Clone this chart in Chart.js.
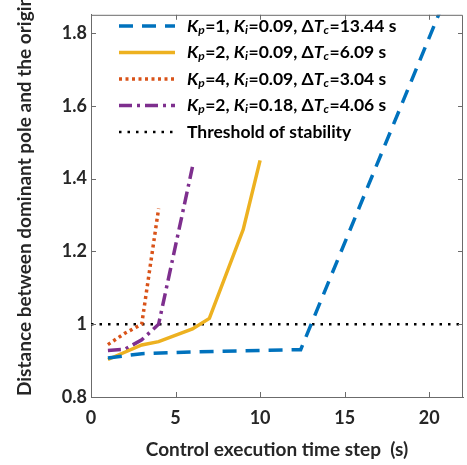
<!DOCTYPE html>
<html>
<head>
<meta charset="utf-8">
<script src="https://cdn.jsdelivr.net/npm/chart.js@4"></script>
<style>
  html, body { margin: 0; padding: 0; background: #fff; }
  #wrap { width: 467px; height: 465px; }
</style>
</head>
<body>
<div id="wrap"><canvas id="myChart"></canvas></div>
<script>
// series (x = control execution time step in s, y = distance to origin)
const blueX = [1, 3, 6, 12.4, 21];
const blueY = [0.907, 0.919, 0.924, 0.930, 1.90];
const yellowX = [1, 3, 4, 6, 7, 9, 10];
const yellowY = [0.903, 0.943, 0.952, 0.987, 1.016, 1.26, 1.45];
const orangeX = [1, 2, 3, 4];
const orangeY = [0.944, 0.975, 1.0, 1.318];
const purpleX = [1, 2, 3, 4, 6];
const purpleY = [0.928, 0.931, 0.957, 1.0, 1.432];
const thresholdX = [0, 22];
const thresholdY = [1, 1];

const seriesLabels = [
    "K_p=1, K_i=0.09, ΔT_c=13.44 s",
    "K_p=2, K_i=0.09, ΔT_c=6.09 s",
    "K_p=4, K_i=0.09, ΔT_c=3.04 s",
    "K_p=2, K_i=0.18, ΔT_c=4.06 s",
    "Threshold of stability"
];

const xTicks = [0, 5, 10, 15, 20];
const yTicks = [0.8, 1, 1.2, 1.4, 1.6, 1.8];
const yTickLabels = ["0.8", "1", "1.2", "1.4", "1.6", "1.8"];
const yTitle = "Distance between dominant pole and the origin";

const FONT = "Lato";
const TEXT = "#262626";
const AXIS = "#6b6b6b";

function pts(xs, ys) {
    return xs.map((x, i) => ({ x: x, y: ys[i] }));
}

// box round the plot, MATLAB style inward ticks, y title
const boxPlugin = {
    id: 'box',
    afterDraw(chart) {
        const ctx = chart.ctx;
        const a = chart.chartArea;
        const xs = chart.scales.x, ys = chart.scales.y;
        ctx.save();
        ctx.strokeStyle = AXIS;
        ctx.lineWidth = 1;
        ctx.beginPath();
        ctx.moveTo(a.left, a.top + 0.5);
        ctx.lineTo(a.right - 0.5, a.top + 0.5);
        ctx.lineTo(a.right - 0.5, a.bottom);
        xTicks.forEach(v => {
            const p = Math.round(xs.getPixelForValue(v)) + 0.5;
            ctx.moveTo(p, a.bottom); ctx.lineTo(p, a.bottom - 5);
            ctx.moveTo(p, a.top); ctx.lineTo(p, a.top + 5);
        });
        yTicks.forEach(v => {
            const p = Math.round(ys.getPixelForValue(v)) + 0.5;
            ctx.moveTo(a.left, p); ctx.lineTo(a.left + 5, p);
            ctx.moveTo(a.right, p); ctx.lineTo(a.right - 5, p);
        });
        ctx.stroke();

        // y title runs from the bottom of the axis upward and may leave the canvas
        ctx.translate(25, a.bottom - 1);
        ctx.rotate(-Math.PI / 2);
        ctx.fillStyle = TEXT;
        ctx.font = 'bold 19px ' + FONT;
        ctx.textAlign = 'left';
        ctx.textBaseline = 'middle';
        ctx.fillText(yTitle, 0, 0);
        ctx.restore();
    }
};

// legend with italic symbols and subscripts
function drawRich(ctx, str, x, y, size) {
    const re = /([A-ZΔ]?)([A-Z])_(\w)/g;
    const seg = (t, it, sub) => {
        if (!t) return;
        ctx.font = (it ? 'italic ' : '') + 'bold ' + (sub ? Math.round(size * 0.68) : size) + 'px ' + FONT;
        ctx.fillText(t, x, sub ? y + 4 : y);
        x += ctx.measureText(t).width + (sub ? 0.5 : 0);
    };
    let last = 0, m;
    while ((m = re.exec(str))) {
        seg(str.slice(last, m.index), false, false);
        seg(m[1], false, false);
        seg(m[2], true, false);
        seg(m[3], true, true);
        last = re.lastIndex;
    }
    seg(str.slice(last), false, false);
}

const legendPlugin = {
    id: 'richLegend',
    afterDraw(chart) {
        const ctx = chart.ctx;
        ctx.save();
        chart.data.datasets.forEach((ds, i) => {
            const y = 26 + i * 26.5;
            ctx.strokeStyle = ds.borderColor;
            ctx.lineWidth = ds.borderWidth;
            ctx.setLineDash(ds.borderDash || []);
            ctx.beginPath();
            ctx.moveTo(119, y);
            ctx.lineTo(175, y);
            ctx.stroke();
            ctx.setLineDash([]);
            ctx.fillStyle = '#000';
            ctx.textBaseline = 'middle';
            drawRich(ctx, seriesLabels[i], 187, y, 17.5);
        });
        ctx.restore();
    }
};

new Chart("myChart", {
    type: "line",
    data: {
        datasets: [{
            label: seriesLabels[0],
            data: pts(blueX, blueY),
            borderColor: "#0072BD",
            borderWidth: 3.5,
            borderDash: [14, 9]
        }, {
            label: seriesLabels[1],
            data: pts(yellowX, yellowY),
            borderColor: "#EDB120",
            borderWidth: 3.5
        }, {
            label: seriesLabels[2],
            data: pts(orangeX, orangeY),
            borderColor: "#D95319",
            borderWidth: 3.5,
            borderDash: [3, 3.5]
        }, {
            label: seriesLabels[3],
            data: pts(purpleX, purpleY),
            borderColor: "#7E2F8E",
            borderWidth: 3.5,
            borderDash: [13, 5, 3, 5]
        }, {
            label: seriesLabels[4],
            data: pts(thresholdX, thresholdY),
            borderColor: "#000000",
            borderWidth: 2.5,
            borderDash: [2.5, 6]
        }]
    },
    options: {
        responsive: true,
        maintainAspectRatio: false,
        animation: false,
        elements: {
            point: { radius: 0, hoverRadius: 0 },
            line: { tension: 0, fill: false }
        },
        layout: { padding: { top: 4, right: 4, left: 0, bottom: 0 } },
        plugins: {
            legend: { display: false },
            tooltip: { enabled: false }
        },
        scales: {
            x: {
                type: 'linear',
                min: 0,
                max: 22,
                afterFit: s => { s.height = 68; },
                afterBuildTicks: s => { s.ticks = xTicks.map(v => ({ value: v })); },
                grid: { display: false, drawTicks: false, tickLength: 0 },
                border: { display: true, color: AXIS, width: 1 },
                ticks: {
                    padding: 10,
                    color: TEXT,
                    font: { family: FONT, size: 18, weight: 'bold' },
                    maxRotation: 0,
                    callback: v => String(v)
                },
                title: {
                    display: true,
                    text: 'Control execution time step  (s)',
                    color: TEXT,
                    font: { family: FONT, size: 19, weight: 'bold' },
                    padding: { top: 0, bottom: 4 }
                }
            },
            y: {
                type: 'linear',
                min: 0.8,
                max: 1.85,
                afterFit: s => { s.width = 91; },
                afterBuildTicks: s => { s.ticks = yTicks.map(v => ({ value: v })); },
                grid: { display: false, drawTicks: false, tickLength: 0 },
                border: { display: true, color: AXIS, width: 1 },
                ticks: {
                    padding: 4,
                    color: TEXT,
                    font: { family: FONT, size: 18, weight: 'bold' },
                    callback: (v, i) => yTickLabels[i]
                },
                title: { display: false }
            }
        }
    },
    plugins: [boxPlugin, legendPlugin]
});
</script>
</body>
</html>
